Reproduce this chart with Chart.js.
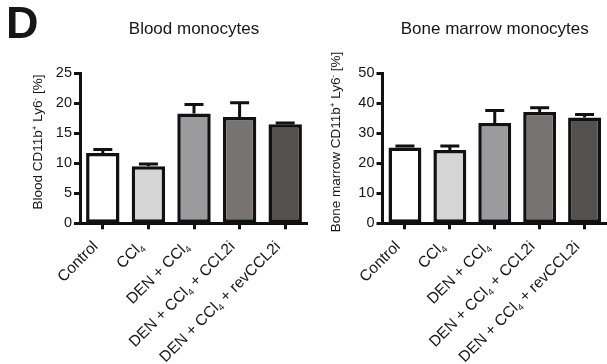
<!DOCTYPE html>
<html>
<head>
<meta charset="utf-8">
<script src="https://cdn.jsdelivr.net/npm/chart.js@4.4.0/dist/chart.umd.min.js"></script>
<style>
  html, body { margin: 0; padding: 0; background: #ffffff; }
  #wrap { position: relative; width: 607px; height: 364px; overflow: hidden; }
  canvas { position: absolute; top: 0; }
  #bloodCanvas { left: 0; }
  #marrowCanvas { left: 308px; }
</style>
</head>
<body>
<div id="wrap">
  <canvas id="bloodCanvas" width="308" height="364"></canvas>
  <canvas id="marrowCanvas" width="299" height="364"></canvas>
</div>
<script>
// Treatment groups (₄ is drawn as a subscript 4)
const categories = ['Control', 'CCl₄', 'DEN + CCl₄', 'DEN + CCl₄ + CCL2i', 'DEN + CCl₄ + revCCL2i'];

// Blood CD11b+ Ly6- monocytes, mean and SEM (%)
const bloodMean = [11.7, 9.5, 18.3, 17.7, 16.5];
const bloodSem  = [0.6, 0.4, 1.5, 2.4, 0.2];

// Bone marrow CD11b+ Ly6- monocytes, mean and SEM (%)
const marrowMean = [25.3, 24.4, 33.4, 37.1, 35.3];
const marrowSem  = [0.5, 1.4, 4.2, 1.4, 1.0];

// Y-axis tick values
const bloodTicks  = [0, 5, 10, 15, 20, 25];
const marrowTicks = [0, 10, 20, 30, 40, 50];

// Bar fill per group
const barFills = ['#ffffff', '#d6d5d6', '#9b9a9c', '#777371', '#53504e'];

const FONT = '"Liberation Sans", Arial, Helvetica, sans-serif';
const INK = '#111111';
const TEXT = '#161616';

// Split a string into normal / subscript / superscript runs
const SUB = { '₀': '0', '₁': '1', '₂': '2', '₃': '3', '₄': '4', '₅': '5', '₆': '6', '₇': '7', '₈': '8', '₉': '9' };
const SUP = { '⁺': '+', '⁻': '-' };
function runs(str) {
  const out = [];
  for (const ch of str) {
    let kind = 'n', t = ch;
    if (SUB[ch]) { kind = 'sub'; t = SUB[ch]; }
    else if (SUP[ch]) { kind = 'sup'; t = SUP[ch]; }
    const last = out[out.length - 1];
    if (last && last.kind === kind) last.text += t; else out.push({ kind, text: t });
  }
  return out;
}

// Draw rich text along the current x direction; align: 'left' | 'center' | 'right'
function drawRich(ctx, str, size, align) {
  const parts = runs(str).map(r => {
    const s = r.kind === 'n' ? size : size * 0.6;
    ctx.font = s + 'px ' + FONT;
    return { ...r, s, w: ctx.measureText(r.text).width };
  });
  const total = parts.reduce((a, p) => a + p.w, 0);
  let x = align === 'right' ? -total : align === 'center' ? -total / 2 : 0;
  ctx.textAlign = 'left';
  ctx.textBaseline = 'alphabetic';
  for (const p of parts) {
    ctx.font = p.s + 'px ' + FONT;
    const dy = p.kind === 'sub' ? size * 0.2 : p.kind === 'sup' ? -size * 0.4 : 0;
    ctx.fillText(p.text, x, dy);
    x += p.w;
  }
}

function panelDecor(cfg) {
  return {
    id: 'panelDecor',
    afterDatasetsDraw(chart) {
      // Upward error bars (mean to mean + SEM) with caps
      const ctx = chart.ctx;
      const y = chart.scales.y;
      const meta = chart.getDatasetMeta(0);
      ctx.save();
      ctx.strokeStyle = INK;
      ctx.lineWidth = 3;
      ctx.lineCap = 'butt';
      cfg.mean.forEach((m, i) => {
        const bx = meta.data[i].x;
        const yMean = y.getPixelForValue(m);
        const yTop = y.getPixelForValue(m + cfg.sem[i]);
        ctx.beginPath();
        ctx.moveTo(bx, yMean);
        ctx.lineTo(bx, yTop);
        ctx.moveTo(bx - 9.5, yTop);
        ctx.lineTo(bx + 9.5, yTop);
        ctx.stroke();
      });
      ctx.restore();
    },
    afterDraw(chart) {
      const ctx = chart.ctx;
      const area = chart.chartArea;
      const xs = chart.scales.x;
      ctx.save();
      ctx.fillStyle = TEXT;

      // Panel letter
      if (cfg.letter) {
        ctx.font = 'bold 45px ' + FONT;
        ctx.textAlign = 'left';
        ctx.textBaseline = 'alphabetic';
        ctx.fillText(cfg.letter, 6, 38);
      }

      // Panel title centred over the plot area
      ctx.font = '17px ' + FONT;
      ctx.textAlign = 'center';
      ctx.textBaseline = 'alphabetic';
      ctx.fillText(cfg.title, (area.left + area.right) / 2, 34);

      // Rotated y-axis title
      ctx.save();
      ctx.translate(cfg.yTitleX, 142);
      ctx.rotate(-Math.PI / 2);
      drawRich(ctx, cfg.yTitle, 13.5, 'center');
      ctx.restore();

      // 45° category labels ending at each tick
      categories.forEach((label, i) => {
        const tx = xs.getPixelForTick(i);
        ctx.save();
        ctx.translate(tx - 4, area.bottom + 24);
        ctx.rotate(-Math.PI / 4);
        drawRich(ctx, label, 15.5, 'right');
        ctx.restore();
      });
      ctx.restore();
    }
  };
}

function makePanel(canvasId, cfg) {
  const tickVals = cfg.ticks;
  return new Chart(document.getElementById(canvasId), {
    type: 'bar',
    data: {
      labels: categories,
      datasets: [{
        data: cfg.mean,
        backgroundColor: barFills,
        borderColor: INK,
        borderWidth: 3.5,
        borderSkipped: false,
        barPercentage: 0.733,
        categoryPercentage: 1.0
      }]
    },
    options: {
      responsive: false,
      animation: false,
      events: [],
      layout: { padding: { top: 73.3, left: 0, right: 0, bottom: 0 } },
      plugins: { legend: { display: false }, tooltip: { enabled: false }, title: { display: false } },
      scales: {
        x: {
          offset: true,
          grid: { display: true, offset: false, drawOnChartArea: false, drawTicks: true, tickLength: 6, tickWidth: 3, tickColor: INK },
          border: { display: true, color: INK, width: 3 },
          ticks: { display: false },
          afterFit(scale) { scale.height = 364 - 223.3; }
        },
        y: {
          min: tickVals[0],
          max: tickVals[tickVals.length - 1],
          afterBuildTicks(scale) { scale.ticks = tickVals.map(v => ({ value: v })); },
          grid: { display: true, drawOnChartArea: false, drawTicks: true, tickLength: 6, tickWidth: 3, tickColor: INK },
          border: { display: true, color: INK, width: 3 },
          ticks: { color: TEXT, padding: 2, font: { family: FONT, size: 14.5 } },
          afterFit(scale) { scale.width = cfg.axisLeft; }
        }
      }
    },
    plugins: [panelDecor(cfg)]
  });
}

makePanel('bloodCanvas', {
  mean: bloodMean, sem: bloodSem, ticks: bloodTicks,
  title: 'Blood monocytes', yTitle: 'Blood CD11b⁺ Ly6⁻ [%]',
  yTitleX: 42, axisLeft: 80, letter: 'D'
});
makePanel('marrowCanvas', {
  mean: marrowMean, sem: marrowSem, ticks: marrowTicks,
  title: 'Bone marrow monocytes', yTitle: 'Bone marrow CD11b⁺ Ly6⁻ [%]',
  yTitleX: 32, axisLeft: 74.5, letter: null
});
</script>
</body>
</html>
